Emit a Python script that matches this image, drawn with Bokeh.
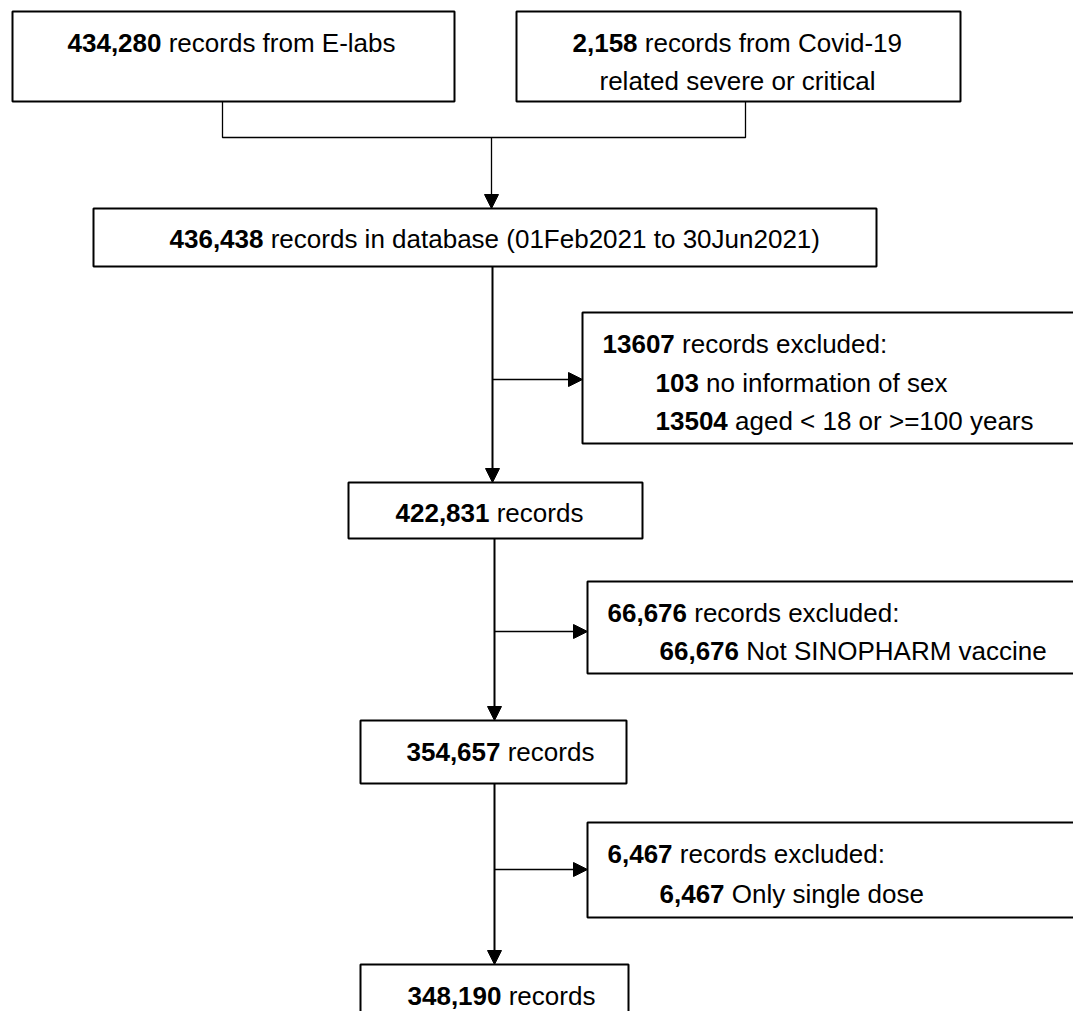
from bokeh.plotting import figure
from bokeh.models import Range1d, Arrow, NormalHead, ColumnDataSource
from bokeh.embed import file_html
from bokeh.resources import INLINE
from bokeh.core.properties import value

# ---- data: counts (bold) and descriptions ----
bold_values = ["434,280", "2,158", "", "436,438", "13607", "103", "13504",
               "422,831", "66,676", "66,676", "354,657", "6,467", "6,467", "348,190"]
rest_texts = ["records from E-labs", "records from Covid-19", "related severe or critical",
              "records in database (01Feb2021 to 30Jun2021)",
              "records excluded:", "no information of sex", "aged < 18 or >=100 years",
              "records", "records excluded:", "Not SINOPHARM vaccine", "records",
              "records excluded:", "Only single dose", "records"]

# ---- layout (page pixel coordinates) ----
text_x = [67, 572, 599, 169, 602, 655, 655, 395, 607, 659, 406, 607, 659, 407]
text_y = [42, 42, 80, 238, 343, 382, 420, 512, 612, 650, 751, 853, 893, 995]

box_left = [12, 516, 93, 582, 348, 587, 360, 587, 360]
box_right = [454, 960, 876, 1100, 642, 1100, 626, 1100, 628]
box_top = [11, 11, 208, 312, 482, 581, 720, 822, 964]
box_bottom = [101, 101, 266, 443, 538, 673, 783, 917, 1040]

join_x = [222, 222, 745, 745]
join_y = [101, 137, 137, 101]

arrows = [  # x0, y0, x1, y1, width
    (491, 137, 491, 208, 1.3),
    (492, 266, 492, 482, 2.0),
    (494, 538, 494, 720, 2.0),
    (494, 783, 494, 964, 2.0),
    (492, 379, 582, 379, 1.3),
    (494, 631, 587, 631, 1.3),
    (494, 869, 587, 869, 1.3),
]

FS = 26
FONT = "Liberation Sans"
ADV = {c: 0.556 for c in "0123456789"}
ADV[","] = 0.278
SPACE = 0.278


def bold_width(s):
    return sum(ADV.get(c, 0.556) for c in s) * FS


rest_x = []
for b, x in zip(bold_values, text_x):
    rest_x.append(x + (bold_width(b) + SPACE * FS if b else 0))

W, H = 1073, 1011
p = figure(width=W, height=H, x_range=Range1d(0, W), y_range=Range1d(H, 0),
           output_backend="svg", toolbar_location=None, min_border=0)
p.axis.visible = False
p.grid.visible = False
p.outline_line_color = None
p.background_fill_color = "white"
p.border_fill_color = "white"

p.line(join_x, join_y, line_color="black", line_width=1.3)

for x0, y0, x1, y1, lw in arrows:
    p.add_layout(Arrow(end=NormalHead(size=14, fill_color="black", line_color="black", line_width=1),
                       x_start=x0, y_start=y0, x_end=x1, y_end=y1,
                       line_color="black", line_width=lw))

p.quad(left=box_left, right=box_right, top=box_top, bottom=box_bottom,
       fill_color="white", line_color="black", line_width=2)

src_b = ColumnDataSource(dict(x=text_x, y=text_y, t=bold_values))
src_r = ColumnDataSource(dict(x=rest_x, y=text_y, t=rest_texts))
p.text(x="x", y="y", text="t", source=src_b, text_font=value(FONT), text_font_style="bold",
       text_font_size=f"{FS}px", text_baseline="middle", text_align="left", text_color="black")
p.text(x="x", y="y", text="t", source=src_r, text_font=value(FONT),
       text_font_size=f"{FS}px", text_baseline="middle", text_align="left", text_color="black")

open("out.html", "w").write(file_html(p, INLINE))
